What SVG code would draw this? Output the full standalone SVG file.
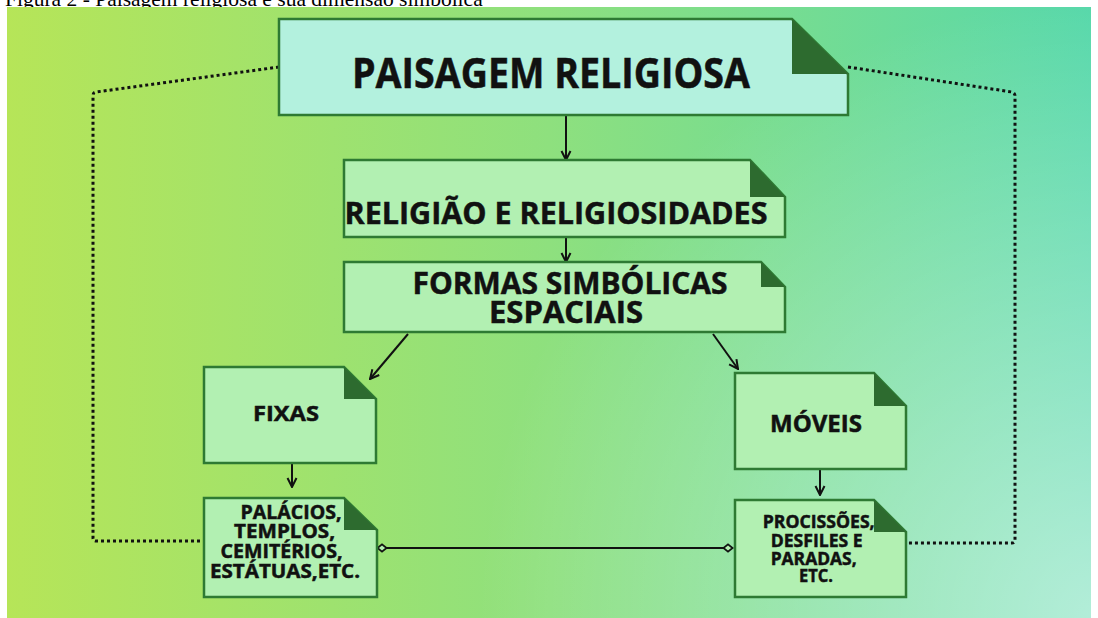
<svg xmlns="http://www.w3.org/2000/svg" width="1098" height="618" viewBox="0 0 1098 618">
  <defs>
    <linearGradient id="bgH" x1="0" y1="0" x2="1" y2="0">
      <stop offset="0" stop-color="#b6e558"/>
      <stop offset="0.5" stop-color="#8ee07e"/>
      <stop offset="1" stop-color="#57d8aa"/>
    </linearGradient>
    <radialGradient id="bgR" cx="1098" cy="618" r="620" gradientUnits="userSpaceOnUse">
      <stop offset="0" stop-color="#ffffff" stop-opacity="0.55"/>
      <stop offset="1" stop-color="#ffffff" stop-opacity="0"/>
    </radialGradient>
    <marker id="arrow" viewBox="0 0 12 12" refX="11" refY="6" markerWidth="12" markerHeight="12" markerUnits="userSpaceOnUse" orient="auto">
      <path d="M2,1.5 L11,6 L2,10.5" fill="none" stroke="#111" stroke-width="2"/>
    </marker>
    <marker id="diamond" viewBox="0 0 12 12" refX="6" refY="6" markerWidth="11" markerHeight="11" markerUnits="userSpaceOnUse" orient="auto">
      <path d="M1,6 L6,2 L11,6 L6,10 Z" fill="#b3efb0" stroke="#111" stroke-width="2"/>
    </marker>
  </defs>
  <style>
    .caption { font-family: "Liberation Serif", serif; font-size: 21.5px; fill: #000; }
    .body { stroke: #2e7a33; stroke-width: 2.5; }
    .mint { fill: #b3f1de; }
    .pale { fill: #b2f0b2; }
    .fold { fill: #2d6b2f; }
    .label { font-family: "Open Sans", "DejaVu Sans", sans-serif; font-weight: 700; fill: #111; stroke: #111; stroke-width: 0.5; text-anchor: middle; }
    .link { stroke: #111; stroke-width: 2; fill: none; }
    .dots { stroke: #111; stroke-width: 3; fill: none; stroke-dasharray: 3 3; stroke-linejoin: round; }
  </style>

  <text class="caption" x="5" y="6">Figura 2 - Paisagem religiosa e sua dimensão simbólica</text>
  <rect x="7" y="7" width="1084" height="611" fill="url(#bgH)"/>
  <rect x="7" y="7" width="1084" height="611" fill="url(#bgR)"/>

  <g id="connectors">
    <path class="dots" d="M279,67 L96,92 Q93,92 93,96 V538 Q93,541 96,541 H204"/>
    <path class="dots" d="M848,67 L1012,92 Q1015,93 1015,96 V540 Q1015,543 1012,543 H906"/>
    <line class="link" x1="566" y1="115" x2="566" y2="160" marker-end="url(#arrow)"/>
    <line class="link" x1="566" y1="237" x2="566" y2="262" marker-end="url(#arrow)"/>
    <line class="link" x1="408" y1="334" x2="370" y2="379" marker-end="url(#arrow)"/>
    <line class="link" x1="713" y1="334" x2="738" y2="369" marker-end="url(#arrow)"/>
    <line class="link" x1="292" y1="463" x2="292" y2="487" marker-end="url(#arrow)"/>
    <line class="link" x1="820" y1="469" x2="820" y2="495" marker-end="url(#arrow)"/>
    <line class="link" x1="382" y1="548" x2="728" y2="548" marker-start="url(#diamond)" marker-end="url(#diamond)"/>
  </g>

  <g id="paisagem">
    <path class="body mint" d="M279,19 H792 L848,74 V115 H279 Z"/>
    <path class="fold" d="M792,19 V74 H848 Z"/>
    <text class="label" x="551" y="88" font-size="42" textLength="398" lengthAdjust="spacingAndGlyphs">PAISAGEM RELIGIOSA</text>
  </g>

  <g id="religiao">
    <path class="body pale" d="M344,160 H750 L785,197 V237 H344 Z"/>
    <path class="fold" d="M750,160 V197 H785 Z"/>
    <text class="label" x="556" y="224" font-size="31" textLength="423" lengthAdjust="spacingAndGlyphs">RELIGIÃO E RELIGIOSIDADES</text>
  </g>

  <g id="formas">
    <path class="body pale" d="M344,262 H761 L785,287 V332 H344 Z"/>
    <path class="fold" d="M761,262 V287 H785 Z"/>
    <text class="label" x="570" y="294" font-size="31" textLength="315" lengthAdjust="spacingAndGlyphs">FORMAS SIMBÓLICAS</text>
    <text class="label" x="566" y="323" font-size="31" textLength="154" lengthAdjust="spacingAndGlyphs">ESPACIAIS</text>
  </g>

  <g id="fixas">
    <path class="body pale" d="M204,367 H344 L376,399 V463 H204 Z"/>
    <path class="fold" d="M344,367 V399 H376 Z"/>
    <text class="label" x="286" y="421" font-size="22" textLength="66" lengthAdjust="spacingAndGlyphs">FIXAS</text>
  </g>

  <g id="moveis">
    <path class="body pale" d="M735,373 H874 L906,406 V469 H735 Z"/>
    <path class="fold" d="M874,373 V406 H906 Z"/>
    <text class="label" x="816" y="432" font-size="23" textLength="92" lengthAdjust="spacingAndGlyphs">MÓVEIS</text>
  </g>

  <g id="palacios">
    <path class="body pale" d="M204,498 H344 L377,530 V597 H204 Z"/>
    <path class="fold" d="M344,498 V530 H377 Z"/>
    <text class="label" font-size="19">
      <tspan x="293.5" y="519" textLength="101" lengthAdjust="spacingAndGlyphs">PALÁCIOS,</tspan>
      <tspan x="287" y="538" textLength="101" lengthAdjust="spacingAndGlyphs">TEMPLOS,</tspan>
      <tspan x="284" y="558" textLength="122" lengthAdjust="spacingAndGlyphs">CEMITÉRIOS,</tspan>
      <tspan x="285" y="578" textLength="150" lengthAdjust="spacingAndGlyphs">ESTÁTUAS,ETC.</tspan>
    </text>
  </g>

  <g id="procissoes">
    <path class="body pale" d="M735,500 H874 L906,532 V597 H735 Z"/>
    <path class="fold" d="M874,500 V532 H906 Z"/>
    <text class="label" font-size="18">
      <tspan x="821" y="528" textLength="112" lengthAdjust="spacingAndGlyphs">PROCISSÕES,</tspan>
      <tspan x="819" y="547" textLength="92" lengthAdjust="spacingAndGlyphs">DESFILES E</tspan>
      <tspan x="816" y="565" textLength="86" lengthAdjust="spacingAndGlyphs">PARADAS,</tspan>
      <tspan x="816" y="582" textLength="34" lengthAdjust="spacingAndGlyphs">ETC.</tspan>
    </text>
  </g>
</svg>
